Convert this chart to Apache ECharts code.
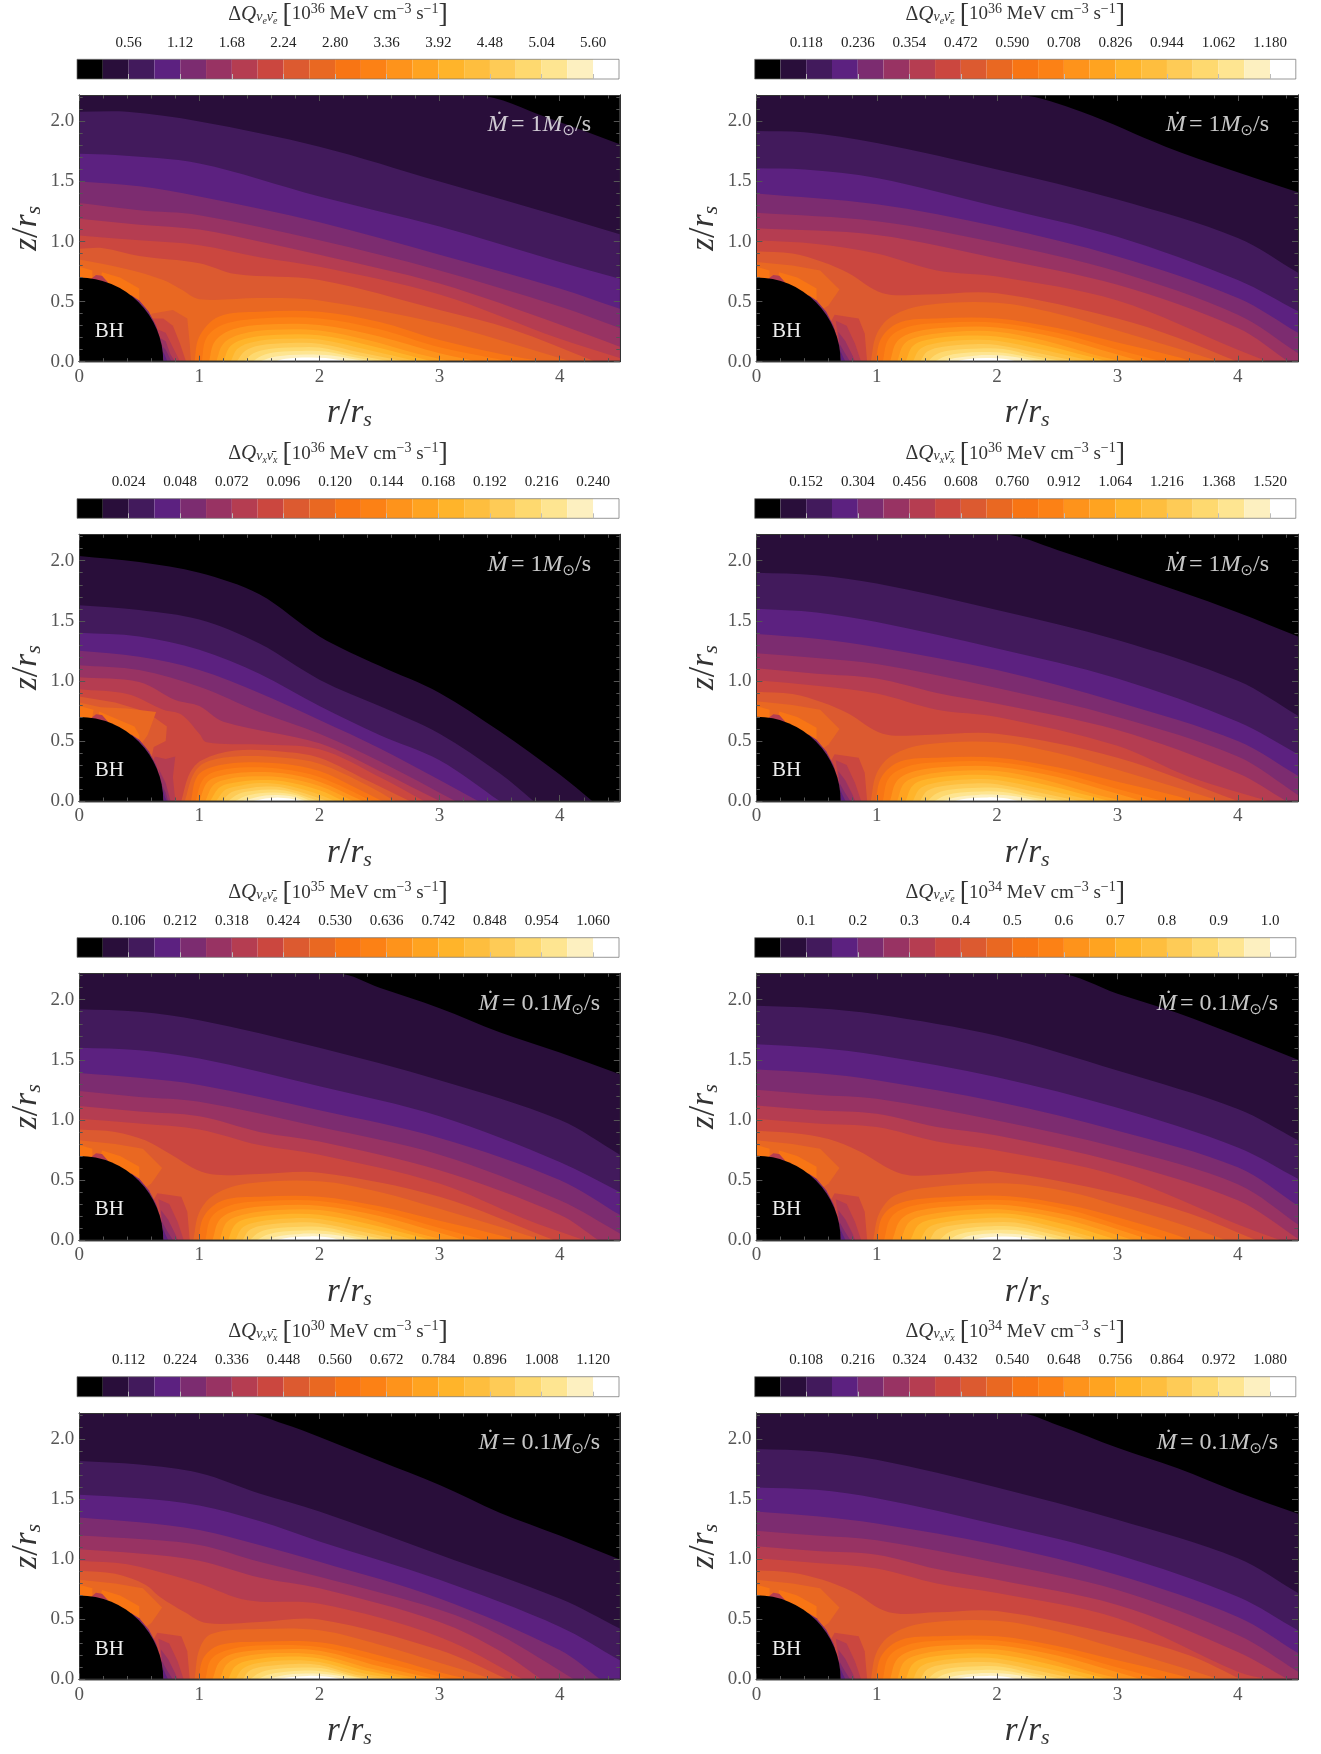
<!DOCTYPE html>
<html><head><meta charset="utf-8">
<style>html,body{margin:0;padding:0;background:#fff}#c{width:1321px;height:1754px}</style>
<script src="https://cdn.jsdelivr.net/npm/echarts@6/dist/echarts.min.js"></script>
</head><body><div id="c"></div>
<script>
// colour of each of the 21 contour levels
const levelColors=['#000000','#290e3a','#421a5c','#5c2180','#7c2c70','#983363','#b53d51','#cb473f','#dc5a30','#e96822','#f87514','#fc8115','#fe931b','#ffa320','#ffb42a','#febe3e','#fecb56','#fed96f','#fee591','#fdf0c0','#ffffff'];
// tick labels
const xMajor=[0,1,2,3,4];
const xMinor=[0.2,0.4,0.6,0.8,1.2,1.4,1.6,1.8,2.2,2.4,2.6,2.8,3.2,3.4,3.6,3.8,4.2,4.4];
const zMajor=[0,0.5,1,1.5,2];
const zMinor=[0.1,0.2,0.3,0.4,0.6,0.7,0.8,0.9,1.1,1.2,1.3,1.4,1.6,1.7,1.8,1.9,2.1,2.2];
const ticksA=['0.56','1.12','1.68','2.24','2.80','3.36','3.92','4.48','5.04','5.60'];
const ticksB=['0.118','0.236','0.354','0.472','0.590','0.708','0.826','0.944','1.062','1.180'];
const ticksC=['0.024','0.048','0.072','0.096','0.120','0.144','0.168','0.192','0.216','0.240'];
const ticksD=['0.152','0.304','0.456','0.608','0.760','0.912','1.064','1.216','1.368','1.520'];
const ticksE=['0.106','0.212','0.318','0.424','0.530','0.636','0.742','0.848','0.954','1.060'];
const ticksF=['0.1','0.2','0.3','0.4','0.5','0.6','0.7','0.8','0.9','1.0'];
const ticksG=['0.112','0.224','0.336','0.448','0.560','0.672','0.784','0.896','1.008','1.120'];
const ticksH=['0.108','0.216','0.324','0.432','0.540','0.648','0.756','0.864','0.972','1.080'];
const bhRadius=[0.7];
const contoursA=[
[1,0,2.22,3.3,2.22,3.9,2.03,4.5,1.81],
[2,0,2.08,.4,2.08,1,2.0,2,1.79,3,1.5,4,1.21,4.5,1.06],
[3,0,1.73,.3,1.72,1,1.65,2,1.375,3,1.125,4,.83,4.5,.69],
[4,0,1.5,.5,1.46,1,1.375,2,1.16,3,.89,4,.61,4.5,.44],
[5,0,1.32,.5,1.26,1,1.22,2,1.01,3,.76,4,.46,4.5,.28],
[6,0,1.19,.5,1.14,1,1.10,1.5,1,2,.89,3,.65,4,.31,4.5,.125],
[7,0,1.05,.5,1.01,1,.97,1.5,.87,2,.79,3,.56,4,.19,4.5,.03],
[8,0,.94,.2,.945,.5,.88,1,.82,1.3,.73,2,.68,3,.43,3.6,.27,4.3,0],
[9,0,.85,.4,.77,.7,.68,.85,.6,1,.52,1.5,.53,2,.51,3,.32,3.5,.18,4.1,0]];
const contoursB=[
[1,0,2.22,2.18,2.22,2.7,2.08,3.4,1.79,3.93,1.6,4.5,1.41],
[2,0,1.92,.4,1.91,1,1.82,2,1.6,3,1.35,4,1.03,4.5,.74],
[3,0,1.61,.4,1.6,1,1.53,2,1.29,3,1.04,4,.68,4.5,.42],
[4,0,1.4,1,1.31,2,1.125,3,.875,4,.53,4.5,.24],
[5,0,1.24,1,1.17,2,.99,3,.75,4,.39,4.5,.07],
[6,0,1.11,1,1.055,2,.86,3,.64,4,.28,4.42,0],
[7,0,1.01,.5,.98,1,.9,1.5,.76,2,.71,3,.51,4,.1,4.25,0],
[8,0,.92,.3,.9,.55,.83,.76,.74,1.05,.57,1.4,.56,2,.57,3,.36,3.5,.2,4,0]];
const contoursC=[
[1,0,2.04,.5,1.99,1,1.9,1.5,1.72,2,1.37,2.5,1.125,3,.9,3.5,.58,4,.22,4.27,0],
[2,0,1.63,.5,1.59,1,1.51,1.5,1.31,2,1.01,2.5,.79,3,.56,3.5,.23,3.78,0],
[3,0,1.4,.5,1.37,1,1.26,1.5,1.06,2,.79,2.5,.55,3,.34,3.5,0],
[4,0,1.25,.5,1.2,1,1.09,1.5,.9,2,.675,2.5,.44,3,.175,3.32,0],
[5,0,1.13,.5,1.09,1,.95,1.5,.74,2,.56,2.5,.33,3.13,0],
[6,0,1.03,.5,.99,.8,.84,1,.79,1.2,.66,2,.48,2.5,.25,3,0],
[7,0,.93,.4,.89,.7,.76,.85,.72,1,.56,1.06,.49,1.5,.47,2,.43,2.5,.2,2.87,0]];
const contoursD=[
[1,0,2.22,2.05,2.22,2.5,2.09,3,1.92,3.5,1.75,4,1.57,4.5,1.37],
[2,0,1.9,.5,1.88,1,1.81,2,1.59,3,1.34,4,1,4.5,.71],
[3,0,1.6,.5,1.57,1,1.49,2,1.27,3,1.02,4,.66,4.5,.39],
[4,0,1.39,.5,1.35,1,1.28,2,1.09,3,.825,4,.5,4.5,.21],
[5,0,1.23,.5,1.19,1,1.14,2,.94,3,.7,4,.37,4.5,.05],
[6,0,1.105,.5,1.06,1,1.02,1.5,.9,2,.81,3,.59,4,.23,4.4,0],
[7,0,1.005,.5,.96,1,.895,1.5,.76,2,.7,3,.46,3.6,.2,4.25,0],
[8,0,.91,.3,.89,.55,.82,.76,.73,1.05,.56,1.4,.55,2,.56,3,.36,4,0]];
const contoursE=[
[1,0,2.22,2.15,2.22,2.5,2.1,3,1.93,3.5,1.73,4,1.56,4.5,1.38],
[2,0,1.92,.5,1.9,1,1.83,2,1.6,3,1.33,4,1,4.5,.71],
[3,0,1.6,.5,1.58,1,1.51,2,1.28,3,1.03,4,.65,4.5,.4],
[4,0,1.39,.5,1.35,1,1.29,2,1.08,3,.85,4,.5,4.5,.21],
[5,0,1.24,.5,1.19,1,1.15,2,.94,3,.71,4,.33,4.5,.055],
[6,0,1.115,.5,1.07,1,1.03,1.5,.9,2,.82,3,.58,4,.21,4.32,0],
[7,0,1.01,.5,.97,1,.92,1.5,.79,2,.71,3,.47,3.7,.18,4.2,0],
[8,0,.92,.3,.9,.55,.83,.75,.72,1.06,.555,1.5,.55,2,.56,3,.36,3.95,0]];
const contoursF=[
[1,0,2.22,2.5,2.22,3,2.05,3.5,1.89,4,1.7,4.5,1.5],
[2,0,1.95,.5,1.93,1,1.88,2,1.7,3,1.41,4,1.09,4.5,.83],
[3,0,1.63,.5,1.6,1,1.54,2,1.355,3,1.1,4,.77,4.5,.51],
[4,0,1.42,.5,1.39,1,1.33,2,1.15,3,.91,4,.605,4.5,.285],
[5,0,1.25,.5,1.21,1,1.175,2,.995,3,.77,4,.465,4.5,.13],
[6,0,1.12,.5,1.08,1,1.05,1.5,.94,2,.87,3,.65,4,.33,4.5,.01],
[7,0,1.01,.5,.97,1,.94,1.5,.82,2,.745,3,.535,4,.13,4.35,0],
[8,0,.91,.3,.89,.6,.84,.85,.74,1.21,.55,1.6,.55,2,.57,3,.39,3.6,.22,4.15,0]];
const contoursG=[
[1,0,2.22,1.39,2.22,1.7,2.13,2,2.02,2.5,1.82,3,1.62,3.5,1.39,4,1.2,4.5,1],
[2,0,1.82,.5,1.79,1,1.72,1.5,1.55,2,1.4,3,1.04,4,.675,4.5,.425],
[3,0,1.54,.5,1.51,1,1.45,1.5,1.32,2,1.15,3,.83,4,.44,4.5,.16],
[4,0,1.35,.5,1.31,1,1.245,1.5,1.12,2,.98,3,.675,4,.245,4.34,0],
[5,0,1.2,.5,1.17,1,1.12,1.5,.98,2,.855,3,.58,3.5,.37,4.12,0],
[6,0,1.085,.5,1.05,1,.99,1.5,.85,2,.76,3,.48,3.5,.24,3.85,0],
[7,0,.99,.4,.96,.8,.86,1,.8,1.4,.66,2,.63,3,.355,3.7,0],
[8,0,.905,.3,.88,.55,.79,.67,.69,.88,.56,1.06,.47,1.5,.48,2,.5,3,.245,3.57,0]];
const contoursH=[
[1,0,2.22,2.18,2.22,2.5,2.12,3,1.93,3.5,1.76,4,1.56,4.5,1.38],
[2,0,1.92,.5,1.9,1,1.83,2,1.6,3,1.33,4,1.01,4.5,.72],
[3,0,1.6,.5,1.58,1,1.51,2,1.29,3,1.04,4,.69,4.5,.41],
[4,0,1.4,.5,1.36,1,1.3,2,1.12,3,.87,4,.52,4.5,.22],
[5,0,1.24,.5,1.2,1,1.16,2,.97,3,.745,4,.37,4.5,.065],
[6,0,1.11,.5,1.07,1,1.04,1.5,.92,2,.83,3,.62,4,.23,4.42,0],
[7,0,1.01,.5,.97,1,.925,1.5,.8,2,.72,3,.51,4,.065,4.25,0],
[8,0,.91,.3,.89,.55,.83,.8,.73,1.1,.56,1.5,.56,2,.57,3,.37,3.6,.2,4.03,0]];
// valley of lower values just outside the black hole
const valleyA=[
[8,.6,.4,.78,.43,.9,.36,.92,.15,.93,0,.7,0,.6,.3],
[7,.6,.36,.7,.36,.78,.3,.84,.15,.89,0,.7,0],
[6,.65,.27,.72,.24,.78,.12,.84,0,.7,0],
[5,.67,.2,.72,.17,.76,.06,.8,0,.7,0],
[4,.68,.14,.72,.1,.77,0,.7,0],
[3,.685,.1,.71,.06,.735,0,.7,0]];
const valleyB=[
[7,.65,.39,.85,.36,.9,.235,.92,0,.7,0,.6,.3],
[6,.66,.34,.75,.3,.82,.15,.87,0,.7,0],
[5,.68,.25,.74,.17,.8,.05,.82,0,.7,0],
[4,.69,.15,.73,.08,.78,0,.7,0],
[3,.695,.1,.72,.04,.74,0,.7,0]];
const valleyC=[
[6,.63,.37,.72,.35,.8,.37,.78,.2,.8,0,.7,0,.6,.3],
[5,.66,.27,.72,.15,.76,0,.7,0],
[4,.68,.15,.72,.07,.74,0,.7,0],
[3,.695,.1,.715,.03,.73,0,.7,0]];
// lobes around the hottest point on the plane
const lobesA=[
[10,.96,0,1,.21,1.16,.375,1.5,.415,2,.415,2.5,.33,3,.18,3.55,.055,3.87,0],
[11,1.02,0,1.06,.2,1.2,.31,1.5,.36,2,.36,2.5,.27,3,.12,3.6,0],
[12,1.08,0,1.13,.17,1.28,.27,1.55,.31,2,.305,2.5,.21,3,.07,3.32,0],
[13,1.14,0,1.2,.15,1.35,.23,1.6,.265,2,.26,2.4,.18,2.8,.07,3.1,0],
[14,1.2,0,1.26,.13,1.4,.195,1.65,.225,2,.22,2.4,.14,2.95,0],
[15,1.26,0,1.32,.11,1.45,.165,1.7,.19,2,.185,2.4,.1,2.83,0],
[16,1.31,0,1.38,.09,1.5,.135,1.75,.155,2,.15,2.35,.075,2.72,0],
[17,1.37,0,1.45,.07,1.58,.105,1.8,.12,2,.118,2.3,.055,2.6,0],
[18,1.44,0,1.52,.05,1.65,.08,1.85,.09,2.05,.085,2.3,.035,2.5,0],
[19,1.5,0,1.6,.035,1.75,.055,1.9,.06,2.1,.052,2.4,0],
[20,1.62,0,1.72,.025,1.9,.035,2.05,.03,2.25,0]];
const lobesB=[
[9,.95,0,1,.23,1.13,.38,1.4,.47,2,.49,2.5,.4,3,.26,3.5,.11,3.85,0],
[10,.99,0,1.04,.2,1.2,.33,1.5,.36,2,.36,2.5,.28,3,.16,3.5,.04,3.62,0],
[11,1.05,0,1.1,.19,1.26,.29,1.55,.325,2,.325,2.5,.24,3,.1,3.38,0],
[12,1.11,0,1.17,.17,1.32,.25,1.6,.285,2,.285,2.5,.2,3,.06,3.2,0],
[13,1.17,0,1.23,.15,1.38,.215,1.65,.25,2,.25,2.4,.175,2.8,.06,3.05,0],
[14,1.24,0,1.3,.13,1.43,.185,1.7,.215,2,.21,2.4,.135,2.93,0],
[15,1.3,0,1.36,.105,1.5,.155,1.75,.18,2,.175,2.4,.095,2.8,0],
[16,1.36,0,1.42,.085,1.55,.125,1.8,.145,2,.14,2.35,.07,2.68,0],
[17,1.42,0,1.5,.065,1.62,.095,1.85,.11,2.05,.105,2.3,.05,2.57,0],
[18,1.48,0,1.57,.045,1.7,.07,1.88,.08,2.05,.075,2.3,.03,2.46,0],
[19,1.55,0,1.65,.03,1.78,.045,1.9,.055,2.1,.045,2.35,0],
[20,1.65,0,1.75,.02,1.92,.03,2.05,.025,2.18,0]];
const lobesC=[
[8,.85,0,.92,.23,1.02,.34,1.3,.42,1.7,.41,2,.36,2.4,.17,2.75,0],
[9,.88,0,.95,.22,1.05,.32,1.3,.37,1.7,.36,2,.31,2.4,.13,2.63,0],
[10,.93,0,.98,.2,1.1,.28,1.35,.32,1.7,.31,2,.25,2.3,.11,2.52,0],
[11,.97,0,1.03,.18,1.15,.25,1.4,.28,1.7,.265,2,.2,2.44,0],
[12,1,0,1.07,.16,1.2,.215,1.4,.24,1.7,.23,2,.16,2.36,0],
[13,1.05,0,1.12,.135,1.25,.185,1.45,.205,1.7,.195,2,.125,2.28,0],
[14,1.09,0,1.17,.115,1.3,.155,1.5,.175,1.7,.165,2,.09,2.2,0],
[15,1.14,0,1.22,.095,1.35,.13,1.5,.15,1.7,.135,1.95,.07,2.13,0],
[16,1.19,0,1.27,.075,1.4,.105,1.55,.12,1.7,.11,1.95,.04,2.06,0],
[17,1.24,0,1.33,.06,1.45,.085,1.6,.095,1.75,.08,1.99,0],
[18,1.3,0,1.38,.04,1.5,.065,1.63,.07,1.8,.05,1.93,0],
[19,1.36,0,1.45,.025,1.55,.045,1.65,.05,1.78,.035,1.88,0],
[20,1.45,0,1.55,.02,1.65,.03,1.75,.02,1.85,0]];
const lobesF=[
[9,.97,0,1.02,.22,1.15,.37,1.45,.44,2.1,.47,2.6,.4,3,.29,3.5,.14,3.9,0],
[10,1,0,1.05,.2,1.2,.31,1.55,.355,2.1,.365,2.6,.29,3,.19,3.4,.07,3.6,0],
[11,1.06,0,1.12,.19,1.28,.28,1.6,.32,2.1,.33,2.6,.25,3,.13,3.42,0],
[12,1.13,0,1.2,.17,1.35,.245,1.7,.285,2.1,.29,2.6,.205,3,.09,3.27,0],
[13,1.2,0,1.27,.15,1.42,.21,1.75,.25,2.1,.25,2.6,.165,3.13,0],
[14,1.28,0,1.35,.13,1.5,.18,1.8,.215,2.15,.215,2.6,.12,3,0],
[15,1.36,0,1.43,.105,1.58,.15,1.85,.18,2.15,.18,2.55,.09,2.88,0],
[16,1.44,0,1.5,.085,1.65,.125,1.9,.145,2.15,.145,2.5,.07,2.77,0],
[17,1.52,0,1.6,.065,1.72,.095,1.95,.115,2.2,.105,2.45,.05,2.65,0],
[18,1.6,0,1.68,.045,1.8,.07,2,.085,2.2,.075,2.55,0],
[19,1.68,0,1.75,.03,1.88,.05,2.05,.055,2.25,.04,2.45,0],
[20,1.8,0,1.9,.02,2.05,.03,2.2,.02,2.32,0]];
const lobesG=[
[9,.96,0,1,.25,1.1,.38,1.5,.42,2,.41,2.5,.29,3,.14,3.45,0],
[10,.99,0,1.04,.19,1.18,.29,1.5,.315,2,.31,2.5,.2,3,.06,3.25,0],
[11,1.05,0,1.1,.17,1.25,.25,1.55,.285,2,.27,2.5,.15,3.1,0],
[12,1.11,0,1.17,.15,1.3,.22,1.6,.25,2,.24,2.5,.11,2.98,0],
[13,1.17,0,1.23,.13,1.36,.19,1.65,.22,2,.205,2.45,.085,2.87,0],
[14,1.24,0,1.3,.11,1.42,.16,1.7,.19,2,.175,2.4,.07,2.77,0],
[15,1.3,0,1.36,.09,1.48,.135,1.75,.16,2,.145,2.35,.055,2.68,0],
[16,1.36,0,1.42,.075,1.55,.11,1.8,.13,2,.12,2.3,.04,2.58,0],
[17,1.42,0,1.5,.055,1.62,.085,1.85,.1,2.05,.09,2.3,.025,2.48,0],
[18,1.48,0,1.57,.04,1.7,.062,1.88,.075,2.05,.065,2.4,0],
[19,1.55,0,1.65,.025,1.78,.045,1.9,.05,2.1,.04,2.32,0],
[20,1.63,0,1.75,.018,1.9,.03,2.05,.025,2.2,0]];
// hot cap on the black hole's upper side, and the thin edge layer
const capShared=[
[9,0,.83,.3,.8,.53,.76,.69,.6,.6,.47,.5,.4,0,.4],
[10,0,.79,.11,.76,.11,.65,0,.65],
[10,.19,.745,.34,.7,.5,.61,.5,.45,.15,.6]];
const capA=[
[10,0,.79,.11,.76,.11,.65,0,.65],
[10,.19,.745,.34,.7,.5,.61,.5,.45,.15,.6]];
const capC=[
[8,0,.87,.3,.82,.5,.76,.62,.7,.73,.62,.72,.5,.62,.45,.6,.35,0,.4],
[9,0,.82,.18,.78,.4,.77,.64,.74,.57,.55,.5,.45,0,.5],
[10,0,.79,.12,.76,.1,.65,0,.65],
[10,.165,.745,.46,.62,.5,.55,.5,.45,.15,.62]];
const edgeLayer=[
[6,.1,.69,.14,.722,.19,.715,.24,.66,.1,.6],
[4,.43,.555,.5,.51,.58,.415,.64,.3,.69,.135,.705,0,.6,.2]];

const rows=[{bar:[59.3,79],top:95,bot:361.7},{bar:[498.7,518.3],top:534.3,bot:801},{bar:[937.7,957.3],top:973.3,bot:1240},{bar:[1376.7,1396.7],top:1413,bot:1679.5}];
const cols=[{bar:[77,619],l:79.2,r:619.8},{bar:[754.7,1295.8],l:756.4,r:1298}];
const panels=[
{c:contoursA,v:valleyA,lo:lobesA,cap:capA,t:ticksA,nu:'e',ex:'36',m:'1',row:0,col:0},
{c:contoursB,v:valleyB,lo:lobesB,cap:capShared,t:ticksB,nu:'e',ex:'36',m:'1',row:0,col:1},
{c:contoursC,v:valleyC,lo:lobesC,cap:capC,t:ticksC,nu:'x',ex:'36',m:'1',row:1,col:0},
{c:contoursD,v:valleyB,lo:lobesB,cap:capShared,t:ticksD,nu:'x',ex:'36',m:'1',row:1,col:1},
{c:contoursE,v:valleyB,lo:lobesB,cap:capShared,t:ticksE,nu:'e',ex:'35',m:'0.1',row:2,col:0},
{c:contoursF,v:valleyB,lo:lobesF,cap:capShared,t:ticksF,nu:'e',ex:'34',m:'0.1',row:2,col:1},
{c:contoursG,v:valleyB,lo:lobesG,cap:capShared,t:ticksG,nu:'x',ex:'30',m:'0.1',row:3,col:0},
{c:contoursH,v:valleyB,lo:lobesB,cap:capShared,t:ticksH,nu:'x',ex:'34',m:'0.1',row:3,col:1}];

const F='"Liberation Serif","DejaVu Serif",serif';
const tickCol='#555';
const grids=[],xAxes=[],yAxes=[],series=[],titles=[];
const axisNameRich={i:{fontFamily:F,fontStyle:'italic',fontWeight:'normal',fontSize:33,color:'#333',lineHeight:38},
  s:{fontFamily:F,fontStyle:'italic',fontWeight:'normal',fontSize:22,color:'#333',lineHeight:38,verticalAlign:'bottom',padding:[0,0,1,0]},
  l:{fontFamily:F,fontWeight:'normal',fontSize:38,color:'#333',lineHeight:38}};
const N={fontFamily:F,fontWeight:'normal',color:'#333',lineHeight:26};
const titleRich={D:{...N,fontSize:20},
  Q:{...N,fontStyle:'italic',fontSize:21},
  n:{...N,fontStyle:'italic',fontSize:14,verticalAlign:'bottom',padding:[0,0,3,0]},
  s:{...N,fontStyle:'italic',fontSize:10,verticalAlign:'bottom',padding:[0,0,1,0]},
  b:{...N,fontSize:28},
  t:{...N,fontSize:19},
  p:{...N,fontSize:14,verticalAlign:'top',padding:[1,0,0,0]}};
const W='rgba(255,255,255,.78)';
const markRich={i:{fontFamily:F,fontStyle:'italic',fontSize:24,fill:W,lineHeight:28},
  t:{fontFamily:F,fontSize:24,fill:W,lineHeight:28},
  s:{fontFamily:'"DejaVu Sans"',fontSize:15,fill:W,lineHeight:28,verticalAlign:'bottom'}};

function pairs(a,from){const o=[];for(let i=from;i<a.length;i+=2)o.push([a[i],a[i+1]]);return o;}
// draws the pixel points of a read contour as a gently rounded open curve, then straight lines along the plot edge
function curvePath(px,tail){
  const u=(a,b)=>{const dx=b[0]-a[0],dy=b[1]-a[1],l=Math.hypot(dx,dy)||1;return [dx/l,dy/l];};
  let d='M'+px[0][0]+' '+px[0][1];
  for(let i=0;i<px.length-1;i++){
    const p=px[i],q=px[i+1],len=Math.hypot(q[0]-p[0],q[1]-p[1])/3;
    const m1=i?u(px[i-1],q):u(p,q),m2=i<px.length-2?u(p,px[i+2]):u(p,q);
    d+='C'+(p[0]+m1[0]*len)+' '+(p[1]+m1[1]*len)+' '+(q[0]-m2[0]*len)+' '+(q[1]-m2[1]*len)+' '+q[0]+' '+q[1];
  }
  tail.forEach(t=>{d+='L'+t[0]+' '+t[1];});
  return d+'Z';
}

panels.forEach((p,ix)=>{
  const R=rows[p.row],C=cols[p.col];
  const gi=grids.length;
  grids.push({left:C.l,width:C.r-C.l,top:R.top,height:R.bot-R.top,show:true,backgroundColor:'#000',borderWidth:0,outerBoundsMode:'none',containLabel:false});
  const xi=xAxes.length,yi=yAxes.length;
  const mk=(pos,vals,len,labels,name)=>({gridIndex:gi,type:'value',position:pos,min:0,max:4.5,z:10,
    axisLine:{show:true,onZero:false,lineStyle:{color:'#333',width:pos==='bottom'?1.4:1}},splitLine:{show:false},
    axisTick:{show:true,inside:true,length:len,customValues:vals,lineStyle:{color:tickCol,width:1}},
    axisLabel:labels?{show:true,customValues:vals,fontFamily:F,fontSize:19,color:'#555',margin:6,formatter:v=>String(v)}:{show:false},
    ...(name?{name:'{i|r}{l|/}{i|r}{s|s}',nameLocation:'middle',nameGap:33,nameTextStyle:{rich:axisNameRich}}:{})});
  xAxes.push(mk('bottom',xMajor,6,true,true),mk('bottom',xMinor,3.5,false,false),mk('top',xMajor,6,false,false),mk('top',xMinor,3.5,false,false));
  const mky=(pos,vals,len,labels,name)=>({gridIndex:gi,type:'value',position:pos,min:0,max:2.22,z:10,
    axisLine:{show:true,onZero:false,lineStyle:{color:'#333',width:1}},splitLine:{show:false},
    axisTick:{show:true,inside:true,length:len,customValues:vals,lineStyle:{color:tickCol,width:1}},
    axisLabel:labels?{show:true,customValues:vals,fontFamily:F,fontSize:19,color:'#555',margin:5,formatter:v=>v.toFixed(1)}:{show:false},
    ...(name?{name:'{i|z}{l|/}{i|r}{s|s}',nameLocation:'middle',nameGap:33,nameRotate:90,nameTextStyle:{rich:axisNameRich}}:{})});
  yAxes.push(mky('left',zMajor,6,true,true),mky('left',zMinor,3.5,false,false),mky('right',zMajor,6,false,false),mky('right',zMinor,3.5,false,false));
  const polys=[...p.c.map(a=>({l:a[0],pts:pairs(a,1),tail:[[4.5,0],[0,0]],curve:true})),
               ...p.v.map(a=>({l:a[0],pts:pairs(a,1)})),
               ...p.lo.map(a=>({l:a[0],pts:pairs(a,1),tail:[],curve:true})),
               ...[...p.cap,...edgeLayer].map(a=>({l:a[0],pts:pairs(a,1)}))];
  series.push({type:'custom',xAxisIndex:xi,yAxisIndex:yi,clip:true,silent:true,animation:false,z:2,
    data:polys.map((_,i)=>[i]),
    renderItem:(params,api)=>{const q=polys[params.dataIndex];
      const px=q.pts.map(v=>api.coord(v));
      if(q.curve) return {type:'path',shape:{pathData:curvePath(px,q.tail.map(v=>api.coord(v)))},style:{fill:levelColors[q.l]}};
      return {type:'polygon',shape:{points:px},style:{fill:levelColors[q.l]}};}});
  series.push({type:'custom',xAxisIndex:xi,yAxisIndex:yi,clip:true,silent:true,animation:false,z:3,
    data:[[bhRadius[0]]],
    renderItem:(params,api)=>{const c=api.coord([0,0]);const r=api.size([api.value(0),0])[0];
      const bh=api.coord([.25,.25]),mp=api.coord([3.83,1.97]);
      return {type:'group',children:[
        {type:'sector',shape:{cx:c[0],cy:c[1],r:r,r0:0,startAngle:-Math.PI/2,endAngle:0.001,clockwise:true},style:{fill:'#000'}},
        {type:'text',x:bh[0],y:bh[1],style:{text:'BH',fontFamily:F,fontSize:21,fill:'#eee',align:'center',verticalAlign:'middle'}},
        {type:'text',x:mp[0],y:mp[1],style:{text:'{i|M\u0307} {t|= '+p.m+'}{i|M}{s|\u2299}{t|/s}',rich:markRich,align:'center',verticalAlign:'middle'}}
      ]};}});
  const gb=grids.length,dec=p.t[0].split('.')[1].length;
  const tv=p.t.map(Number),maxv=tv[9]*21/20;
  grids.push({left:C.bar[0],width:C.bar[1]-C.bar[0],top:R.bar[0],height:R.bar[1]-R.bar[0],outerBoundsMode:'none'});
  const xb=xAxes.length,yb=yAxes.length;
  xAxes.push({gridIndex:gb,type:'value',position:'top',min:0,max:maxv,z:10,splitLine:{show:false},
    axisLine:{show:false},
    axisTick:{show:true,inside:false,length:5,customValues:tv,lineStyle:{color:'#bbb',width:1}},
    axisLabel:{show:true,customValues:tv,fontFamily:F,fontSize:15,color:'#222',margin:9,formatter:v=>v.toFixed(dec)}});
  yAxes.push({gridIndex:gb,type:'value',min:0,max:1,show:false});
  series.push({type:'custom',xAxisIndex:xb,yAxisIndex:yb,silent:true,animation:false,clip:false,z:2,
    data:levelColors.map((_,i)=>[i]),
    renderItem:(params,api)=>{const i=params.dataIndex;
      const a=api.coord([maxv*i/21,1]),b=api.coord([maxv*(i+1)/21,0]);
      return {type:'rect',shape:{x:a[0],y:a[1],width:b[0]-a[0],height:b[1]-a[1]},style:{fill:levelColors[i]}};}});
  series.push({type:'custom',xAxisIndex:xb,yAxisIndex:yb,silent:true,animation:false,clip:false,z:3,
    data:[[0]],
    renderItem:(params,api)=>{const a=api.coord([0,1]),b=api.coord([maxv,0]);
      return {type:'rect',shape:{x:a[0],y:a[1],width:b[0]-a[0],height:b[1]-a[1]},style:{fill:'none',stroke:'rgba(110,110,110,.7)',lineWidth:1}};}});
  titles.push({left:(C.bar[0]+C.bar[1])/2-15,top:R.bar[0]-63,textAlign:'center',
    text:'{D|\u0394}{Q|Q}{n|\u03bd}{s|'+p.nu+'}{n|\u03bd\u0304}{s|'+p.nu+'} {b|[}{t|10}{p|'+p.ex+'}{t| MeV cm}{p|\u22123}{t| s}{p|\u22121}{b|]}',
    textStyle:{fontWeight:'normal',rich:titleRich}});
});

const chart=echarts.init(document.getElementById('c'),null,{renderer:'canvas',width:1321,height:1754});
chart.setOption({animation:false,backgroundColor:'#fff',title:titles,grid:grids,xAxis:xAxes,yAxis:yAxes,series:series});
</script></body></html>
